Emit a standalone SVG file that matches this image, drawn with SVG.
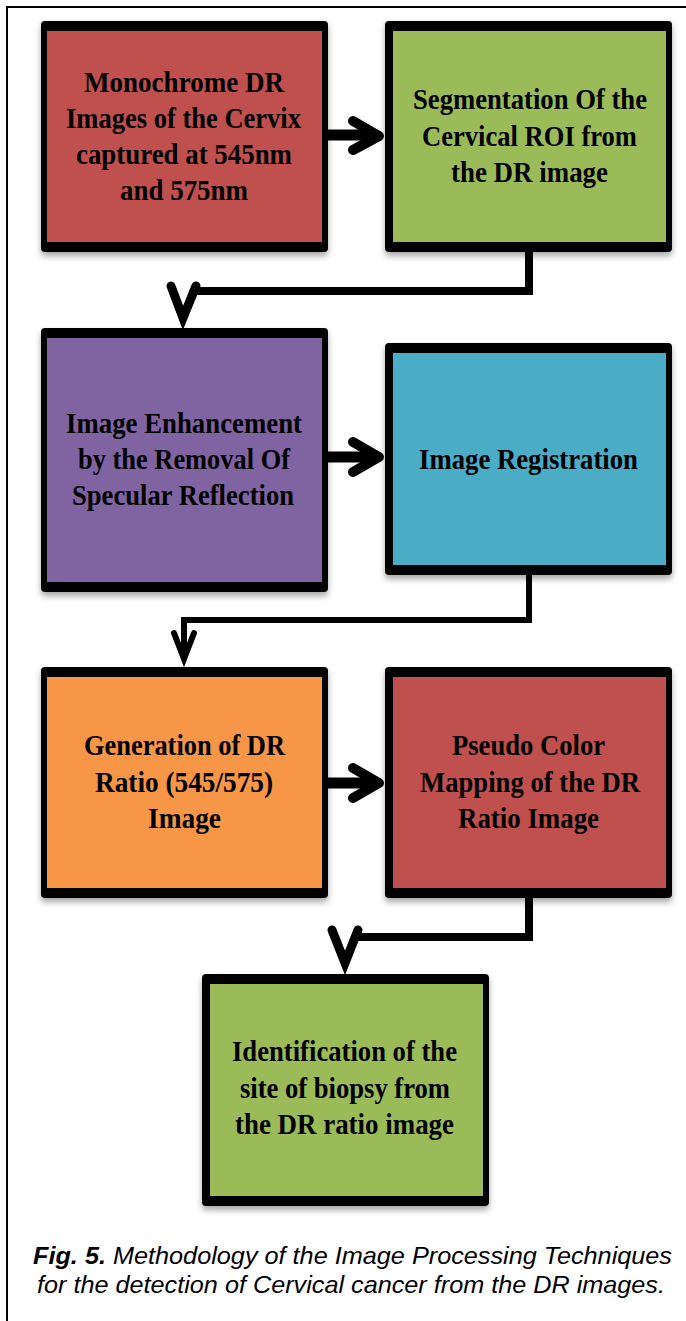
<svg xmlns="http://www.w3.org/2000/svg" width="686" height="1321" viewBox="0 0 686 1321">
<style>
.frame{fill:#000;filter:url(#sh)}
.lbl{font-family:"Liberation Serif",serif;font-weight:bold;font-size:30px;fill:#000}
.cap{font-family:"Liberation Sans",Arial,sans-serif;font-style:italic;font-size:24px;fill:#000}
.conn{fill:none;stroke:#000;stroke-linejoin:miter}
.head{fill:none;stroke:#000;stroke-linecap:round;stroke-linejoin:round}
</style>
<defs>
<filter id="sh" x="-10%" y="-10%" width="120%" height="125%">
<feDropShadow dx="0" dy="4" stdDeviation="3" flood-color="#000" flood-opacity="0.35"/>
</filter>
</defs>
<rect width="686" height="1321" fill="#fff"/>
<path d="M7,1321 V7 H686" fill="none" stroke="#000" stroke-width="2"/>

<g id="connectors">
<line class="conn" x1="328" y1="135" x2="376" y2="135" stroke-width="11"/>
<polyline class="head" points="353,121 379,136 353,150" stroke-width="10"/>
<line class="conn" x1="328" y1="457" x2="376" y2="457" stroke-width="11"/>
<polyline class="head" points="353,442 379,457 353,472" stroke-width="10"/>
<line class="conn" x1="328" y1="783" x2="376" y2="783" stroke-width="11"/>
<polyline class="head" points="353,768 379,783 353,798" stroke-width="10"/>
<polyline class="conn" points="529,252 529,291 195,291" stroke-width="8"/>
<path d="M171,286 L183,318 L196,286" fill="none" stroke="#000" stroke-width="9" stroke-linecap="round" stroke-linejoin="miter"/>
<polyline class="conn" points="529,575 529,620 184,620 184,655" stroke-width="6"/>
<polyline points="174,633 184,659 194,633" fill="none" stroke="#000" stroke-width="6" stroke-linecap="round" stroke-linejoin="miter"/>
<polyline class="conn" points="529,898 529,937 357,937" stroke-width="8"/>
<path d="M332,930 L345,963 L358,930" fill="none" stroke="#000" stroke-width="9" stroke-linecap="round" stroke-linejoin="miter"/>
</g>

<g id="node1">
<rect class="frame" x="41" y="21" width="287" height="231" rx="4"/>
<rect x="47" y="31" width="275" height="211" fill="#C0504D"/>
<text class="lbl" x="84" y="92" textLength="200" lengthAdjust="spacingAndGlyphs">Monochrome DR</text>
<text class="lbl" x="66" y="128" textLength="235" lengthAdjust="spacingAndGlyphs">Images of the Cervix</text>
<text class="lbl" x="76" y="164" textLength="216" lengthAdjust="spacingAndGlyphs">captured at 545nm</text>
<text class="lbl" x="120" y="200" textLength="128" lengthAdjust="spacingAndGlyphs">and 575nm</text>
</g>

<g id="node2">
<rect class="frame" x="385" y="21" width="287" height="231" rx="4"/>
<rect x="393" y="31" width="273" height="211" fill="#9BBB59"/>
<text class="lbl" x="413" y="109" textLength="234" lengthAdjust="spacingAndGlyphs">Segmentation Of the</text>
<text class="lbl" x="422" y="146" textLength="215" lengthAdjust="spacingAndGlyphs">Cervical ROI from</text>
<text class="lbl" x="451" y="182" textLength="157" lengthAdjust="spacingAndGlyphs">the DR image</text>
</g>

<g id="node3">
<rect class="frame" x="41" y="328" width="287" height="264" rx="4"/>
<rect x="47" y="338" width="275" height="244" fill="#8064A2"/>
<text class="lbl" x="66" y="433" textLength="236" lengthAdjust="spacingAndGlyphs">Image Enhancement</text>
<text class="lbl" x="78" y="469" textLength="212" lengthAdjust="spacingAndGlyphs">by the Removal Of</text>
<text class="lbl" x="72" y="505" textLength="222" lengthAdjust="spacingAndGlyphs">Specular Reflection</text>
</g>

<g id="node4">
<rect class="frame" x="385" y="343" width="287" height="232" rx="4"/>
<rect x="393" y="353" width="273" height="212" fill="#4BACC6"/>
<text class="lbl" x="419" y="469" textLength="219" lengthAdjust="spacingAndGlyphs">Image Registration</text>
</g>

<g id="node5">
<rect class="frame" x="41" y="667" width="287" height="231" rx="4"/>
<rect x="47" y="677" width="275" height="211" fill="#F79646"/>
<text class="lbl" x="84" y="755" textLength="201" lengthAdjust="spacingAndGlyphs">Generation of DR</text>
<text class="lbl" x="95" y="792" textLength="178" lengthAdjust="spacingAndGlyphs">Ratio (545/575)</text>
<text class="lbl" x="148" y="828" textLength="73" lengthAdjust="spacingAndGlyphs">Image</text>
</g>

<g id="node6">
<rect class="frame" x="385" y="667" width="287" height="231" rx="4"/>
<rect x="393" y="677" width="273" height="211" fill="#C0504D"/>
<text class="lbl" x="452" y="755" textLength="153" lengthAdjust="spacingAndGlyphs">Pseudo Color</text>
<text class="lbl" x="420" y="792" textLength="220" lengthAdjust="spacingAndGlyphs">Mapping of the DR</text>
<text class="lbl" x="458" y="828" textLength="141" lengthAdjust="spacingAndGlyphs">Ratio Image</text>
</g>

<g id="node7">
<rect class="frame" x="202" y="974" width="287" height="232" rx="4"/>
<rect x="210" y="984" width="273" height="212" fill="#9BBB59"/>
<text class="lbl" x="232" y="1061" textLength="225" lengthAdjust="spacingAndGlyphs">Identification of the</text>
<text class="lbl" x="240" y="1098" textLength="210" lengthAdjust="spacingAndGlyphs">site of biopsy from</text>
<text class="lbl" x="235" y="1134" textLength="219" lengthAdjust="spacingAndGlyphs">the DR ratio image</text>
</g>

<g id="caption">
<text class="cap" x="33" y="1264" textLength="639" lengthAdjust="spacingAndGlyphs"><tspan font-weight="bold">Fig. 5.</tspan> Methodology of the Image Processing Techniques</text>
<text class="cap" x="37" y="1293" textLength="628" lengthAdjust="spacingAndGlyphs">for the detection of Cervical cancer from the DR images.</text>
</g>
</svg>
